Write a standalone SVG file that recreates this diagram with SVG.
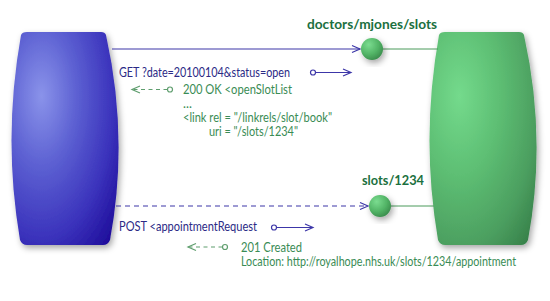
<svg xmlns="http://www.w3.org/2000/svg" width="550" height="301" viewBox="0 0 550 301">
<defs>
<radialGradient id="gBlue" cx="0.28" cy="0.3" r="0.95">
<stop offset="0" stop-color="#8a93ea"/>
<stop offset="0.35" stop-color="#5c60d2"/>
<stop offset="0.7" stop-color="#3b33bc"/>
<stop offset="1" stop-color="#1c0a98"/>
</radialGradient>
<radialGradient id="gGreen" cx="0.28" cy="0.3" r="0.95">
<stop offset="0" stop-color="#74da8c"/>
<stop offset="0.4" stop-color="#5dbe73"/>
<stop offset="0.75" stop-color="#4c9f60"/>
<stop offset="1" stop-color="#357f48"/>
</radialGradient>
<radialGradient id="gBall" cx="0.35" cy="0.3" r="0.75">
<stop offset="0" stop-color="#7bdc90"/>
<stop offset="0.6" stop-color="#52b466"/>
<stop offset="1" stop-color="#3a8c4c"/>
</radialGradient>
<filter id="shadow" x="-20%" y="-20%" width="150%" height="150%">
<feDropShadow dx="2" dy="3" stdDeviation="3" flood-color="#000" flood-opacity="0.35"/>
</filter>
<marker id="arrBlue" markerUnits="userSpaceOnUse" markerWidth="12" markerHeight="10" refX="9" refY="4" orient="auto" overflow="visible">
<path d="M1,0.5 L9,4 L1,7.5" fill="none" stroke="#3c36a8" stroke-width="1.2"/>
</marker>
<marker id="arrGreen" markerUnits="userSpaceOnUse" markerWidth="12" markerHeight="10" refX="9" refY="4" orient="auto-start-reverse" overflow="visible">
<path d="M1,0.5 L9,4 L1,7.5" fill="none" stroke="#5f9e6e" stroke-width="1.2"/>
</marker>
</defs>
<style>
.lbl{font-family:Lato,"Open Sans","DejaVu Sans",sans-serif;font-size:13px;font-weight:bold;fill:#1b7040}
.req{font-family:Lato,"Open Sans","DejaVu Sans",sans-serif;font-size:12.5px;fill:#2b2a86}
.rsp{font-family:Lato,"Open Sans","DejaVu Sans",sans-serif;font-size:12.5px;fill:#3a8c55}
.bl{stroke:#3c36a8;stroke-width:1.2;fill:none}
.gl{stroke:#5f9e6e;stroke-width:1.2;fill:none}
.gc{stroke:#4a9a5a;stroke-width:1;fill:none}
</style>
<g id="client" filter="url(#shadow)">
<path d="M27,32 L101,32 Q105,32 106,35 Q129,138 110,240 Q108,245 103,245 L27,245 Q22,245 20,240 Q2.5,138 21,35 Q22,32 27,32 Z" fill="url(#gBlue)"/>
</g>
<g id="server" filter="url(#shadow)">
<path d="M445,32 L519,32 Q523,32 524,35 Q547,138 528,240 Q526,245 521,245 L445,245 Q440,245 438,240 Q420.5,138 439,35 Q440,32 445,32 Z" fill="url(#gGreen)"/>
</g>
<g id="connectors">
<line class="bl" x1="112" y1="49" x2="360" y2="49" marker-end="url(#arrBlue)"/>
<line class="gc" x1="383" y1="49" x2="438" y2="49"/>
<line class="bl" x1="116" y1="206" x2="368" y2="206" stroke-dasharray="5,4" marker-end="url(#arrBlue)"/>
<line class="gc" x1="391" y1="206" x2="434" y2="206"/>
<circle class="bl" cx="313" cy="72.5" r="2.5"/>
<line class="bl" x1="315.5" y1="72.5" x2="351" y2="72.5" marker-end="url(#arrBlue)"/>
<circle class="bl" cx="274" cy="227.5" r="2.5"/>
<line class="bl" x1="276.5" y1="227.5" x2="313" y2="227.5" marker-end="url(#arrBlue)"/>
<circle class="gl" cx="170" cy="89.5" r="2.5"/>
<line class="gl" x1="167.5" y1="89.5" x2="132" y2="89.5" stroke-dasharray="4,3.5" marker-end="url(#arrGreen)"/>
<circle class="gl" cx="225" cy="247" r="2.5"/>
<line class="gl" x1="222.5" y1="247" x2="188" y2="247" stroke-dasharray="4,3.5" marker-end="url(#arrGreen)"/>
</g>
<g id="resource-slots">
<circle cx="372" cy="49" r="11" fill="url(#gBall)" filter="url(#shadow)"/>
<text class="lbl" x="307" y="29" textLength="130" lengthAdjust="spacingAndGlyphs">doctors/mjones/slots</text>
</g>
<g id="resource-slot1234">
<circle cx="380" cy="206" r="11" fill="url(#gBall)" filter="url(#shadow)"/>
<text class="lbl" x="362" y="185" textLength="62" lengthAdjust="spacingAndGlyphs">slots/1234</text>
</g>
<g id="labels">
<text class="req" x="119" y="77" textLength="171" lengthAdjust="spacingAndGlyphs">GET ?date=20100104&amp;status=open</text>
<text class="rsp" x="183" y="94" textLength="109" lengthAdjust="spacingAndGlyphs">200 OK &lt;openSlotList</text>
<text class="rsp" x="183" y="108">...</text>
<text class="rsp" x="183" y="122" textLength="149" lengthAdjust="spacingAndGlyphs">&lt;link rel = "/linkrels/slot/book"</text>
<text class="rsp" x="209" y="136" textLength="89" lengthAdjust="spacingAndGlyphs">uri = "/slots/1234"</text>
<text class="req" x="119" y="231" textLength="138" lengthAdjust="spacingAndGlyphs">POST &lt;appointmentRequest</text>
<text class="rsp" x="241" y="252" textLength="61" lengthAdjust="spacingAndGlyphs">201 Created</text>
<text class="rsp" x="241" y="266" textLength="275" lengthAdjust="spacingAndGlyphs">Location: http://royalhope.nhs.uk/slots/1234/appointment</text>
</g>
</svg>
